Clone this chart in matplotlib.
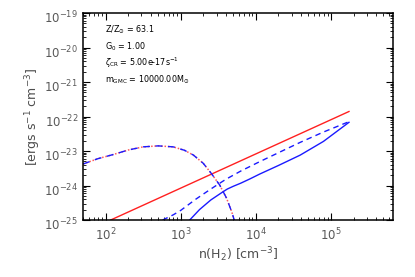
import matplotlib
matplotlib.use("Agg")
import matplotlib.pyplot as plt
import numpy as np
from matplotlib.ticker import LogLocator, NullFormatter

# ---- data ----
n_red = [117, 1.738e5]
L_red = [1.0e-25, 1.40e-22]

n_dd = [50, 79, 126, 200, 316, 501, 794, 1122, 1479, 1995, 2570, 3311, 4074, 4786, 5248]
L_dd = [4.2e-24, 6.0e-24, 7.9e-24, 1.07e-23, 1.32e-23, 1.41e-23, 1.32e-23, 1.05e-23,
        7.6e-24, 4.4e-24, 2.2e-24, 1.02e-24, 4.3e-25, 1.7e-25, 8.9e-26]

n_dash = [575, 794, 1000, 1585, 2512, 3981, 6310, 11220, 19950, 38900, 79430, 173800]
L_dash = [1.0e-25, 1.41e-25, 1.9e-25, 4.0e-25, 7.9e-25, 1.51e-24, 2.63e-24, 4.9e-24,
          8.9e-24, 1.78e-23, 3.55e-23, 7.1e-23]

n_solid = [1318, 1778, 2512, 3548, 4169, 5012, 6310, 8318, 11220, 19950, 38900, 79430, 173800]
L_solid = [1.0e-25, 2.0e-25, 3.8e-25, 6.3e-25, 7.9e-25, 9.5e-25, 1.17e-24, 1.55e-24,
           2.14e-24, 3.8e-24, 7.6e-24, 1.9e-23, 6.8e-23]

y_exponents = [-25, -24, -23, -22, -21, -20, -19]

annot = [r"Z/Z$_{\odot}$ = 63.1", r"G$_0$ = 1.00",
         r"$\zeta_{\rm CR}$ = 5.00e-17s$^{-1}$", r"m$_{\rm GMC}$ = 10000.00M$_{\odot}$"]

fig = plt.figure(figsize=(4.15, 2.77), dpi=100)
ax = fig.add_axes([0.2, 0.2058, 0.747, 0.747])

ax.plot(n_red, L_red, color="#ff2020", lw=1.0)
ax.plot(n_dd, L_dd, color="#ff5a5a", lw=1.1, ls=(0, (1, 1.2)))
ax.plot(n_dd, L_dd, color="#1a1aff", lw=1.0, ls=(0, (5, 4)))
ax.plot(n_dash, L_dash, color="#1a1aff", lw=1.0, ls=(0, (4, 3)))
ax.plot(n_solid, L_solid, color="#1a1aff", lw=1.0)

ax.set_xscale("log")
ax.set_yscale("log")
ax.set_xlim(50, 6.7e5)
ax.set_ylim(1e-25, 1e-19)

ax.xaxis.set_major_locator(LogLocator(base=10, numticks=10))
ax.set_yticks([10.0 ** e for e in y_exponents])
ax.set_yticklabels([])
ax.xaxis.set_minor_locator(LogLocator(base=10, subs=np.arange(2, 10), numticks=20))
ax.yaxis.set_minor_locator(LogLocator(base=10, subs=np.arange(2, 10), numticks=20))
ax.xaxis.set_minor_formatter(NullFormatter())
ax.yaxis.set_minor_formatter(NullFormatter())

ax.tick_params(which="both", direction="in", top=True, right=True, colors="black",
               labelcolor="0.35", labelsize=8.5)
ax.tick_params(which="major", length=5, width=0.8)
ax.tick_params(which="minor", length=2.5, width=0.6)
ax.tick_params(axis="x", pad=4.5)
for s in ax.spines.values():
    s.set_linewidth(1.1)

# y tick labels, sitting slightly below their ticks as in the reference
for e in y_exponents:
    ax.annotate(r"10$^{%d}$" % e, xy=(0, 10.0 ** e), xycoords=("axes fraction", "data"),
                xytext=(-3.5, -3.8), textcoords="offset points", ha="right", va="center",
                fontsize=8.5, color="0.35")

ax.set_ylabel(r"[ergs s$^{-1}$ cm$^{-3}$]", fontsize=9, color="0.3", labelpad=25)
ax.set_xlabel(r"n(H$_2$) [cm$^{-3}$]", fontsize=9, color="0.3", labelpad=2)

ys = [0.918, 0.838, 0.760, 0.678]
for t, y in zip(annot, ys):
    ax.text(0.07, y, t, transform=ax.transAxes, fontsize=5.8, color="black", va="center")

fig.savefig("out.png", dpi=100)
